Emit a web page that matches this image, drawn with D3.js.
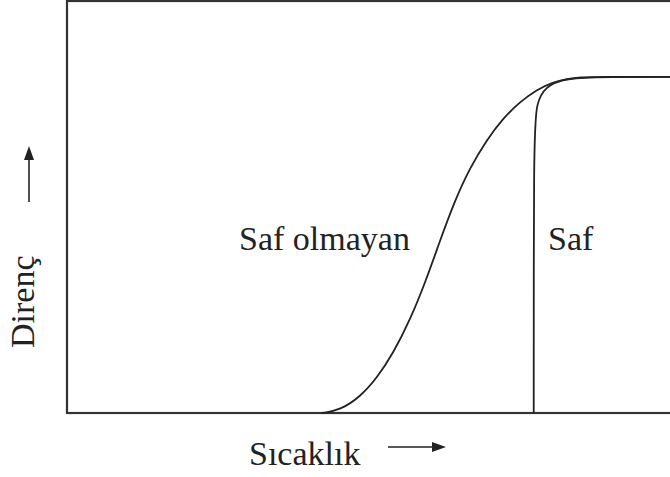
<!DOCTYPE html>
<html>
<head>
<meta charset="utf-8">
<script src="https://cdn.jsdelivr.net/npm/d3@7"></script>
<style>
  body { margin: 0; background: #fff; }
  text { font-family: "Liberation Serif", Tinos, "Times New Roman", "DejaVu Serif", serif; fill: #222; }
</style>
</head>
<body>
<div id="chart"></div>
<script>

// values (temperature / resistance, arbitrary units 0-100)
var impureTemp = [42.3, 45.3, 48.6, 51.4, 54.1, 56.9, 59.5, 61.9, 64.3, 66.8, 69.7, 72.3, 75.1, 77.9, 80.6, 82.9, 85.1, 88.4, 100];
var impureRes  = [0,    0.7,  3.9,  8.5,  14.5, 22.6, 32.0, 42.0, 51.5, 59.5, 66.5, 71.5, 75.5, 78.5, 80.3, 81.1, 81.5, 81.6, 81.6];

// pure metal: vertical jump then rounded corner into the plateau
var pureTemp = [77.4, 77.4, 77.4, 77.4, 77.8, 79.4, 82.0, 86.0, 100,  100,  100];
var pureRes  = [0,    0,    0,    66,   75.5, 79.2, 80.9, 81.6, 81.6, 81.6, 81.6];

var curveLabels = ["Saf olmayan", "Saf"];
var xLabel = "Sıcaklık";
var yLabel = "Direnç";

var width = 670;
var height = 477;

var svg = d3.select("#chart")
		.append("svg")
		.attr("width", width)
		.attr("height", height);

var xScale = d3.scaleLinear()
		.domain([0, 100])
		.range([67, 670]);

var yScale = d3.scaleLinear()
		.domain([0, 100])
		.range([413, 1]);

// frame
svg.append("rect")
	.attr("x", xScale(0))
	.attr("y", yScale(100))
	.attr("width", xScale(100) - xScale(0) + 10)
	.attr("height", yScale(0) - yScale(100))
	.attr("fill", "none")
	.attr("stroke", "#333")
	.attr("stroke-width", 2.2);

var impure = impureTemp.map(function(t, i) { return [t, impureRes[i]]; });
var pure = pureTemp.map(function(t, i) { return [t, pureRes[i]]; });

var line = d3.line()
	.x(function(d) { return xScale(d[0]); })
	.y(function(d) { return yScale(d[1]); })
	.curve(d3.curveBasis);

svg.append("path")
	.attr("d", line(impure))
	.attr("fill", "none")
	.attr("stroke", "#222")
	.attr("stroke-width", 1.8);

svg.append("path")
	.attr("d", line(pure))
	.attr("fill", "none")
	.attr("stroke", "#222")
	.attr("stroke-width", 1.8);

// curve labels
svg.append("text")
	.attr("x", 239)
	.attr("y", 250)
	.attr("font-size", 34)
	.text(curveLabels[0]);

svg.append("text")
	.attr("x", 548)
	.attr("y", 250)
	.attr("font-size", 34)
	.text(curveLabels[1]);

// x axis label + arrow
svg.append("text")
	.attr("x", 249)
	.attr("y", 465)
	.attr("font-size", 34)
	.text(xLabel);

svg.append("line")
	.attr("x1", 388)
	.attr("y1", 447)
	.attr("x2", 434)
	.attr("y2", 447)
	.attr("stroke", "#222")
	.attr("stroke-width", 1.6);

svg.append("path")
	.attr("d", "M432,442 L446,447 L432,452 Z")
	.attr("fill", "#222");

// y axis label + arrow
svg.append("text")
	.attr("transform", "translate(34,348) rotate(-90)")
	.attr("font-size", 34)
	.text(yLabel);

svg.append("line")
	.attr("x1", 29)
	.attr("y1", 202)
	.attr("x2", 29)
	.attr("y2", 158)
	.attr("stroke", "#222")
	.attr("stroke-width", 1.6);

svg.append("path")
	.attr("d", "M24,160 L29,146 L34,160 Z")
	.attr("fill", "#222");

</script>
</body>
</html>
